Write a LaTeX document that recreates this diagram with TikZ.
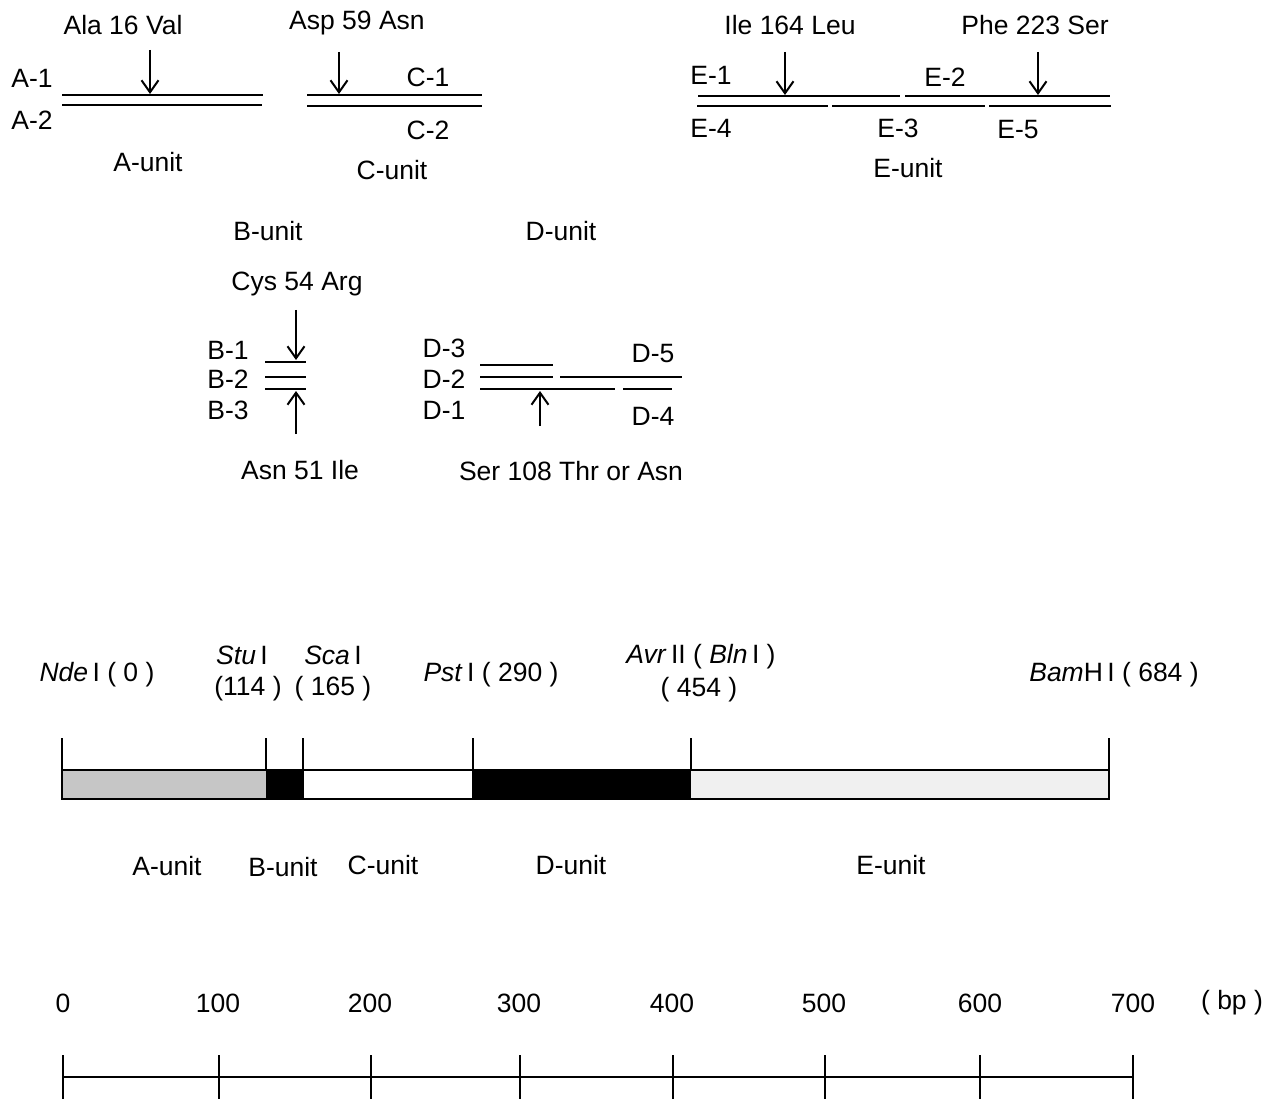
\documentclass[tikz,border=0pt]{standalone}
\usepackage{fontspec}
\setmainfont{Liberation Sans}
\usetikzlibrary{arrows.meta}
\begin{document}
\begin{tikzpicture}[x=1pt,y=-1pt,
 lab/.style={font=\fontsize{26.5}{30}\selectfont, inner sep=0pt},
 strand/.style={line width=2pt},
 mut/.style={line width=2pt,-{Straight Barb[length=12pt,width=17pt,line width=2pt]}},
 tickln/.style={line width=1.8pt},
 seg/.style={draw=black,line width=1.5pt}]
\useasboundingbox (0,0) rectangle (1277,1099);

% ---------- A-unit ----------
\node[lab] (mA) at (123,25) {Ala 16 Val};
\coordinate (mAs) at (150,50); \coordinate (mAe) at (150,94);
\draw[mut] (mAs) -- (mAe);
\coordinate (a1l) at (62,95);  \coordinate (a1r) at (263,95);
\coordinate (a2l) at (62,105); \coordinate (a2r) at (262,105);
\draw[strand] (a1l) -- (a1r);
\draw[strand] (a2l) -- (a2r);
\node[lab] (A1) at (32,78) {A-1};
\node[lab] (A2) at (32,120) {A-2};
\node[lab] (Aunit) at (148,162) {A-unit};

% ---------- C-unit ----------
\node[lab] (mC) at (357,23) {Asp 59 Asn};
\coordinate (mCs) at (339,52); \coordinate (mCe) at (339,94);
\draw[mut] (mCs) -- (mCe);
\coordinate (c1l) at (307,95);  \coordinate (c1r) at (482,95);
\coordinate (c2l) at (307,106); \coordinate (c2r) at (482,106);
\draw[strand] (c1l) -- (c1r);
\draw[strand] (c2l) -- (c2r);
\node[lab] (C1) at (428,77) {C-1};
\node[lab] (C2) at (428,130) {C-2};
\node[lab] (Cunit) at (392,170) {C-unit};

% ---------- E-unit ----------
\node[lab] (mE1) at (790,25) {Ile 164 Leu};
\node[lab] (mE2) at (1035,25) {Phe 223 Ser};
\coordinate (mE1s) at (785,52); \coordinate (mE1e) at (785,95);
\coordinate (mE2s) at (1038,52); \coordinate (mE2e) at (1038,95);
\draw[mut] (mE1s) -- (mE1e);
\draw[mut] (mE2s) -- (mE2e);
\coordinate (e1l) at (698,96);  \coordinate (e1r) at (900,96);
\coordinate (e2l) at (905,96);  \coordinate (e2r) at (1110,96);
\coordinate (e4l) at (697,106); \coordinate (e4r) at (828,106);
\coordinate (e3l) at (832,106); \coordinate (e3r) at (985,106);
\coordinate (e5l) at (989,106); \coordinate (e5r) at (1111,106);
\draw[strand] (e1l) -- (e1r);
\draw[strand] (e2l) -- (e2r);
\draw[strand] (e4l) -- (e4r);
\draw[strand] (e3l) -- (e3r);
\draw[strand] (e5l) -- (e5r);
\node[lab] (E1) at (711,75) {E-1};
\node[lab] (E2) at (945,77) {E-2};
\node[lab] (E4) at (711,128) {E-4};
\node[lab] (E3) at (898,128) {E-3};
\node[lab] (E5) at (1018,130) {E-5};
\node[lab] (Eunit) at (908,168) {E-unit};

% ---------- B and D unit titles ----------
\node[lab] (Bunit) at (268,231) {B-unit};
\node[lab] (Dunit) at (561,231) {D-unit};

% ---------- B-unit ----------
\node[lab] (mB1) at (297,284) {Cys 54 Arg};
\coordinate (mB1s) at (296,310); \coordinate (mB1e) at (296,360);
\draw[mut] (mB1s) -- (mB1e);
\coordinate (b1l) at (265,362); \coordinate (b1r) at (306,362);
\coordinate (b2l) at (265,377); \coordinate (b2r) at (306,377);
\coordinate (b3l) at (265,389); \coordinate (b3r) at (306,389);
\draw[strand] (b1l) -- (b1r);
\draw[strand] (b2l) -- (b2r);
\draw[strand] (b3l) -- (b3r);
\node[lab] (B1) at (228,350) {B-1};
\node[lab] (B2) at (228,379) {B-2};
\node[lab] (B3) at (228,410) {B-3};
\coordinate (mB2s) at (296,434); \coordinate (mB2e) at (296,391);
\draw[mut] (mB2s) -- (mB2e);
\node[lab] (mB2) at (300,470) {Asn 51 Ile};

% ---------- D-unit ----------
\coordinate (d3l) at (480,365); \coordinate (d3r) at (553,365);
\coordinate (d2l) at (480,377); \coordinate (d2r) at (553,377);
\coordinate (d5l) at (560,377); \coordinate (d5r) at (682,377);
\coordinate (d1l) at (480,389); \coordinate (d1r) at (615,389);
\coordinate (d4l) at (623,389); \coordinate (d4r) at (672,389);
\draw[strand] (d3l) -- (d3r);
\draw[strand] (d2l) -- (d2r);
\draw[strand] (d5l) -- (d5r);
\draw[strand] (d1l) -- (d1r);
\draw[strand] (d4l) -- (d4r);
\node[lab] (D3) at (444,348) {D-3};
\node[lab] (D2) at (444,379) {D-2};
\node[lab] (D1) at (444,410) {D-1};
\node[lab] (D5) at (653,354) {D-5};
\node[lab] (D4) at (653,416) {D-4};
\coordinate (mDs) at (540,426); \coordinate (mDe) at (540,391);
\draw[mut] (mDs) -- (mDe);
\node[lab] (mD) at (571,471) {Ser 108 Thr or Asn};

% ---------- restriction map ----------
\node[lab] (rNde) at (97,675) {\textit{Nde}\,I ( 0 )};
\node[lab] (rStu) at (242,655) {\textit{Stu}\,I};
\node[lab] (rStuN) at (248,689) {(114 )};
\node[lab] (rSca) at (333,655) {\textit{Sca}\,I};
\node[lab] (rScaN) at (333,689) {( 165 )};
\node[lab] (rPst) at (491,675) {\textit{Pst}\,I ( 290 )};
\node[lab] (rAvr) at (701,657) {\textit{Avr}\,II ( \textit{Bln}\,I )};
\node[lab] (rAvrN) at (699,690) {( 454 )};
\node[lab] (rBam) at (1114,675) {\textit{Bam}H\,I ( 684 )};

\fill[gray!45] (62,770) rectangle (266,799);
\fill[black] (266,770) rectangle (303,799);
\fill[white] (303,770) rectangle (473,799);
\fill[black] (473,770) rectangle (691,799);
\fill[gray!12] (691,770) rectangle (1109,799);
\draw[seg] (62,770) rectangle (1109,799);
\draw[seg] (303,770) rectangle (473,799);

\foreach \x in {62,266,303,473,691,1109}
  \draw[tickln] (\x,738) -- (\x,770);

\node[lab] (uA) at (167,866) {A-unit};
\node[lab] (uB) at (283,867) {B-unit};
\node[lab] (uC) at (383,865) {C-unit};
\node[lab] (uD) at (571,865) {D-unit};
\node[lab] (uE) at (891,865) {E-unit};

% ---------- scale ----------
\foreach \v/\x in {0/63,100/218,200/370,300/519,400/672,500/824,600/980,700/1133}
  \node[lab] (s\v) at (\x,1003) {\v};
\node[lab] (bp) at (1232,1003) {( bp )};
\coordinate (sl) at (63,1077); \coordinate (sr) at (1133,1077);
\draw[line width=2pt] (sl) -- (sr);
\foreach \x in {63,219,371,520,673,825,980,1133}
  \draw[tickln] (\x,1055) -- (\x,1099);
\end{tikzpicture}
\end{document}
